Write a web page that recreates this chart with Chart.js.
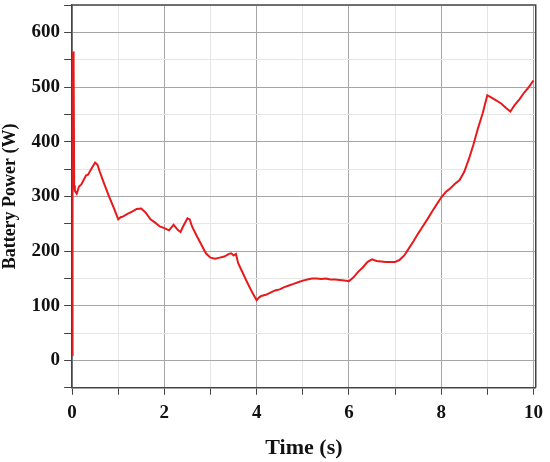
<!DOCTYPE html>
<html>
<head>
    <title>Battery Power</title>
    <script src="https://cdn.jsdelivr.net/npm/chart.js"></script>
    <style>
        body { margin: 0; background: #fff; }
    </style>
</head>
<body>
<canvas id="powerChart" width="550" height="462"></canvas>

<script>
    // time (s) and battery power (W)
    const timeS = [
        0, 0.005, 0.015, 0.02, 0.03, 0.035, 0.045, 0.06, 0.1, 0.15, 0.2, 0.25, 0.3, 0.35, 0.4, 0.45,
        0.5, 0.55, 0.6, 0.7, 0.8, 0.9, 1.0, 1.05, 1.1, 1.2, 1.3, 1.4, 1.5, 1.6, 1.7, 1.8,
        1.9, 2.0, 2.1, 2.2, 2.3, 2.35, 2.4, 2.5, 2.55, 2.6, 2.7, 2.8, 2.9, 3.0, 3.1, 3.2,
        3.3, 3.4, 3.45, 3.5, 3.55, 3.6, 3.7, 3.8, 3.9, 4.0, 4.05, 4.1, 4.2, 4.3, 4.4, 4.5,
        4.6, 4.7, 4.8, 4.9, 5.0, 5.1, 5.2, 5.3, 5.4, 5.5, 5.6, 5.7, 5.8, 5.9, 6.0, 6.1,
        6.2, 6.3, 6.4, 6.5, 6.6, 6.7, 6.8, 6.9, 7.0, 7.1, 7.2, 7.3, 7.4, 7.5, 7.6, 7.7,
        7.8, 7.9, 8.0, 8.1, 8.2, 8.3, 8.4, 8.5, 8.6, 8.7, 8.8, 8.9, 9.0, 9.1, 9.2, 9.3,
        9.4, 9.5, 9.6, 9.7, 9.8, 9.9, 10.0
    ];
    const powerW = [
        10, 20, 480, 565, 340, 545, 320, 310, 305, 318, 322, 330, 338, 340, 348, 355,
        362, 358, 345, 322, 300, 280, 258, 262, 263, 268, 272, 277, 278, 270, 258, 252,
        245, 242, 238, 248, 238, 235, 244, 260, 258, 245, 228, 212, 196, 188, 186, 188,
        190, 195, 196, 192, 195, 178, 160, 142, 125, 110, 115, 118, 120, 124, 128, 130,
        134, 137, 140, 143, 146, 148, 150, 150, 149, 150, 148, 148, 147, 146, 145, 152,
        162, 170, 180, 185, 182, 181, 180, 180, 180, 184, 192, 205, 218, 232, 245, 258,
        272, 285, 298, 308, 315, 323, 330, 345, 368, 395, 425, 452, 485, 480, 475, 470,
        462, 455, 468, 478, 490, 500, 512
    ];
    const xTicks = [0, 1, 2, 3, 4, 5, 6, 7, 8, 9, 10];

    const serif = 'Liberation Serif';
    const majorGrid = '#a6a6a6';
    const minorGrid = '#e6e6e6';

    const frame = {
        id: 'frame',
        afterDraw(chart) {
            const { ctx, chartArea: a } = chart;
            ctx.save();
            ctx.strokeStyle = '#444';
            ctx.lineWidth = 1.5;
            ctx.beginPath();
            ctx.moveTo(a.left, a.top);
            ctx.lineTo(a.right, a.top);
            ctx.lineTo(a.right, a.bottom);
            ctx.stroke();
            ctx.restore();
        }
    };

    new Chart(document.getElementById('powerChart'), {
        type: 'line',
        data: {
            datasets: [{
                data: timeS.map((t, i) => ({ x: t, y: powerW[i] })),
                borderColor: '#e8191c',
                borderWidth: 2,
                pointRadius: 0,
                tension: 0
            }]
        },
        options: {
            responsive: false,
            animation: false,
            layout: { padding: { top: 5, right: 12, left: 0, bottom: 0 } },
            plugins: { legend: { display: false }, tooltip: { enabled: false } },
            scales: {
                x: {
                    type: 'linear',
                    min: 0,
                    max: 10.05,
                    afterBuildTicks: scale => { scale.ticks = xTicks.map(v => ({ value: v })); },
                    ticks: {
                        autoSkip: false,
                        maxRotation: 0,
                        color: '#111',
                        padding: 7,
                        font: { family: serif, size: 19, weight: 'bold' },
                        callback: v => (v % 2 === 0 ? v : '')
                    },
                    grid: {
                        color: c => (c.tick && c.tick.value % 2 === 0 ? majorGrid : minorGrid),
                        tickColor: '#444',
                        tickLength: 7
                    },
                    border: { color: '#444', width: 1.5 },
                    title: {
                        display: true,
                        text: 'Time (s)',
                        color: '#111',
                        padding: { top: 4, bottom: 0 },
                        font: { family: serif, size: 22, weight: 'bold' }
                    }
                },
                y: {
                    min: -50,
                    max: 650,
                    afterFit: scale => { scale.paddingTop = 0; scale.paddingBottom = 0; },
                    ticks: {
                        stepSize: 50,
                        color: '#111',
                        padding: 4,
                        font: { family: serif, size: 19, weight: 'bold' },
                        callback: v => (v % 100 === 0 && v >= 0 && v <= 600 ? v : '')
                    },
                    grid: {
                        color: c => (c.tick && c.tick.value % 100 === 0 ? majorGrid : minorGrid),
                        tickColor: '#444',
                        tickLength: 8
                    },
                    border: { color: '#444', width: 1.5 },
                    title: {
                        display: true,
                        text: 'Battery Power (W)',
                        color: '#111',
                        padding: { top: 0, bottom: 6 },
                        font: { family: serif, size: 18, weight: 'bold' }
                    }
                }
            }
        },
        plugins: [frame]
    });
</script>
</body>
</html>
